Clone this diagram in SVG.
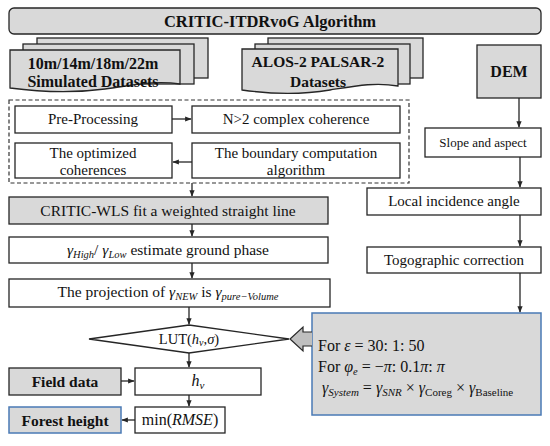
<svg xmlns="http://www.w3.org/2000/svg" width="550" height="446" viewBox="0 0 550 446" font-family="'Liberation Serif', 'DejaVu Serif', 'Times New Roman', serif">
<defs>
<style>
.box{fill:#fff;stroke:#262626;stroke-width:1.3}
.gbox{fill:#d9d9d9;stroke:#262626;stroke-width:1.3}
.bbox{fill:#d9d9d9;stroke:#4a7ab5;stroke-width:1.5}
text{font-family:'Liberation Serif','DejaVu Serif',serif}
.t{font-size:15px;fill:#111;text-anchor:middle}
.b{font-weight:bold}
.mi{font-style:italic}
.sub{font-size:10.5px}
.con{stroke:#262626;stroke-width:1.3;fill:none;marker-end:url(#ah)}
</style>
<marker id="ah" viewBox="0 0 10 10" refX="9" refY="5" markerWidth="5" markerHeight="5" orient="auto">
<path d="M0,1 L10,5 L0,9 Z" fill="#262626"/>
</marker>
</defs>
<rect width="550" height="446" fill="#fff"/>

<g id="title">
<rect class="gbox" x="9" y="8" width="532" height="26" rx="5"/>
<text class="t b" x="270" y="27" style="font-size:16.5px">CRITIC-ITDRvoG Algorithm</text>
</g>

<g id="simulated">
<rect class="gbox" x="37" y="38" width="171" height="40"/>
<rect class="gbox" x="23" y="44" width="171" height="40"/>
<path class="gbox" d="M10,50 H180 V84 C155,80 135,85 105,89 C75,93 40,92 10,88 Z"/>
<text class="t b" x="93" y="69" style="font-size:16px">10m/14m/18m/22m</text>
<text class="t b" x="93" y="87" style="font-size:16px">Simulated Datasets</text>
</g>

<g id="alos">
<rect class="gbox" x="268" y="38" width="155" height="40"/>
<rect class="gbox" x="255" y="44" width="155" height="40"/>
<path class="gbox" d="M242,49 H398 V86 C375,82 355,86 330,90 C300,95 270,94 242,90 Z"/>
<text class="t b" x="318" y="67" style="font-size:15.5px">ALOS-2 PALSAR-2</text>
<text class="t b" x="318" y="87" style="font-size:15.5px">Datasets</text>
</g>

<g id="dem">
<rect class="gbox" x="477" y="45" width="64" height="53"/>
<text class="t b" x="509" y="77" style="font-size:16px">DEM</text>
</g>

<g id="coherence-group">
<rect x="9" y="100" width="400" height="83" fill="none" stroke="#333" stroke-width="1.2" stroke-dasharray="4,2.5"/>
</g>
<g id="preprocessing">
<rect class="box" x="15" y="106" width="157" height="27"/>
<text class="t" x="93" y="124">Pre-Processing</text>
</g>
<g id="n2">
<rect class="box" x="192" y="106" width="208" height="27"/>
<text class="t" x="296" y="124">N&gt;2 complex coherence</text>
</g>
<g id="optimized">
<rect class="box" x="15" y="143" width="157" height="35"/>
<text class="t" x="93" y="158">The optimized</text>
<text class="t" x="93" y="175">coherences</text>
</g>
<g id="boundary">
<rect class="box" x="192" y="143" width="208" height="35"/>
<text class="t" x="296" y="158">The boundary computation</text>
<text class="t" x="296" y="175">algorithm</text>
</g>

<g id="slope">
<rect class="box" x="425" y="128" width="116" height="29"/>
<text class="t" x="483" y="147" style="font-size:13px">Slope and aspect</text>
</g>
<g id="local">
<rect class="box" x="367" y="188" width="174" height="27"/>
<text class="t" x="454" y="206">Local incidence angle</text>
</g>
<g id="topo">
<rect class="box" x="367" y="247" width="174" height="26"/>
<text class="t" x="454" y="265">Togographic correction</text>
</g>

<g id="critic-wls">
<rect class="gbox" x="9" y="197" width="319" height="27"/>
<text class="t" x="168" y="215.5" style="font-size:15.5px">CRITIC-WLS fit a weighted straight line</text>
</g>
<g id="ground-phase">
<rect class="box" x="9" y="237" width="319" height="26"/>
<text class="t" x="168" y="255" style="font-size:15.5px"><tspan class="mi">γ</tspan><tspan class="mi sub" dy="3">High</tspan><tspan dy="-3">/ </tspan><tspan class="mi">γ</tspan><tspan class="mi sub" dy="3">Low</tspan><tspan dy="-3"> estimate ground phase</tspan></text>
</g>
<g id="projection">
<rect class="box" x="9" y="279" width="321" height="28"/>
<text class="t" x="168" y="297" style="font-size:15.5px">The projection of <tspan class="mi">γ</tspan><tspan class="mi sub" dy="3">NEW</tspan><tspan dy="-3"> is </tspan><tspan class="mi">γ</tspan><tspan class="mi sub" dy="3">pure−Volume</tspan></text>
</g>

<g id="lut">
<path class="box" d="M89,339 L189,325 L289,339 L189,353 Z"/>
<text class="t" x="189" y="344" style="font-size:14.5px">LUT(<tspan class="mi">h</tspan><tspan class="mi" style="font-size:10px" dy="2">v</tspan><tspan dy="-2">,</tspan><tspan class="mi">σ</tspan>)</text>
</g>

<g id="params">
<rect class="bbox" x="312" y="313" width="229" height="102"/>
<text class="t" x="318" y="351" style="font-size:16px;text-anchor:start">For <tspan class="mi">ε</tspan> = 30: 1: 50</text>
<text class="t" x="318" y="372" style="font-size:16px;text-anchor:start">For <tspan class="mi">φ</tspan><tspan class="mi sub" dy="3">e</tspan><tspan dy="-3"> = −</tspan><tspan class="mi">π</tspan>: 0.1<tspan class="mi">π</tspan>: <tspan class="mi">π</tspan></text>
<text class="t" x="322" y="393" style="font-size:16px;text-anchor:start"><tspan class="mi">γ</tspan><tspan class="mi" style="font-size:11px" dy="3">System</tspan><tspan dy="-3"> = </tspan><tspan class="mi">γ</tspan><tspan class="mi" style="font-size:11px" dy="3">SNR</tspan><tspan dy="-3"> × </tspan><tspan class="mi">γ</tspan><tspan style="font-size:11px" dy="3">Coreg</tspan><tspan dy="-3"> × </tspan><tspan class="mi">γ</tspan><tspan style="font-size:11px" dy="3">Baseline</tspan></text>
</g>

<g id="big-arrow">
<path d="M312,332 H303 V327 L290,339 L303,351 V346 H312" fill="#bfbfbf" stroke="#262626" stroke-width="1.2"/>
</g>

<g id="field-data">
<rect class="gbox" x="9" y="368" width="112" height="27"/>
<text class="t b" x="65" y="387" style="font-size:15.5px">Field data</text>
</g>
<g id="hv">
<rect class="box" x="135" y="368" width="126" height="27"/>
<text class="t" x="198" y="386" style="font-size:16px"><tspan class="mi">h</tspan><tspan class="mi" style="font-size:11px" dy="3">v</tspan></text>
</g>
<g id="forest-height">
<rect class="bbox" x="9" y="407" width="112" height="26"/>
<text class="t b" x="65" y="426" style="font-size:15.5px">Forest height</text>
</g>
<g id="min-rmse">
<rect class="box" x="135" y="407" width="90" height="26"/>
<text class="t" x="180" y="425" style="font-size:16px">min(<tspan class="mi">RMSE</tspan>)</text>
</g>

<g id="connectors">
<line class="con" x1="172" y1="119" x2="191" y2="119"/>
<line class="con" x1="192" y1="162" x2="173" y2="162"/>
<line class="con" x1="192" y1="183" x2="192" y2="196"/>
<line class="con" x1="192" y1="224" x2="192" y2="236"/>
<line class="con" x1="192" y1="263" x2="192" y2="278"/>
<line class="con" x1="189" y1="307" x2="189" y2="324"/>
<line class="con" x1="189" y1="353" x2="189" y2="367"/>
<line class="con" x1="121" y1="381" x2="134" y2="381"/>
<line class="con" x1="189" y1="395" x2="189" y2="406"/>
<line class="con" x1="135" y1="420" x2="122" y2="420"/>
<line class="con" x1="519" y1="98" x2="519" y2="127"/>
<line class="con" x1="520" y1="157" x2="520" y2="187"/>
<line class="con" x1="520" y1="215" x2="520" y2="246"/>
<line class="con" x1="520" y1="273" x2="520" y2="312"/>
</g>
</svg>
